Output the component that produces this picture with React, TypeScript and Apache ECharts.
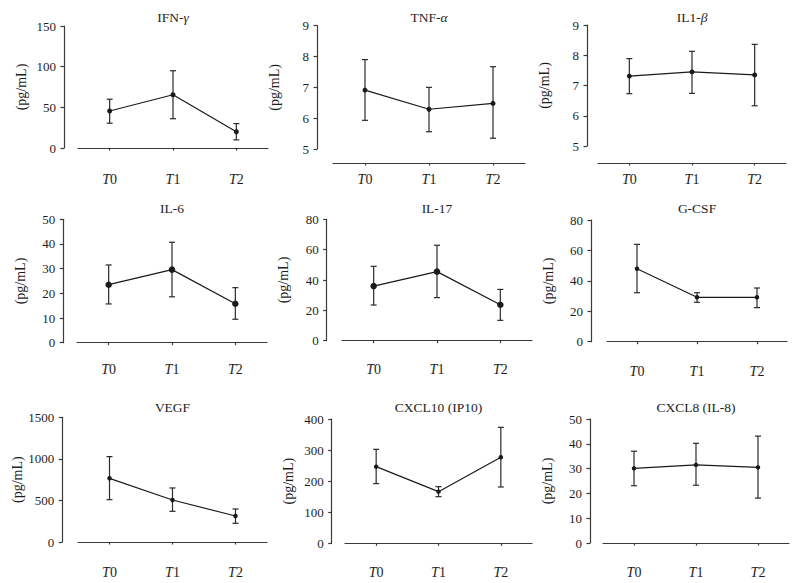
import React, { useEffect, useRef } from "react";
import * as echarts from "echarts";

const categories = ["T0", "T1", "T2"];

const titles = ["IFN-{i|γ}", "TNF-{i|α}", "IL1-{i|β}", "IL-6", "IL-17", "G-CSF", "VEGF", "CXCL10 (IP10)", "CXCL8 (IL-8)"];

const ifnMean = [45.5, 65.5, 20];
const ifnLower = [30.5, 36, 10];
const ifnUpper = [60, 95, 30];

const tnfMean = [6.91, 6.29, 6.48];
const tnfLower = [5.93, 5.56, 5.35];
const tnfUpper = [7.9, 7.0, 7.67];

const il1bMean = [7.31, 7.45, 7.35];
const il1bLower = [6.73, 6.74, 6.33];
const il1bUpper = [7.89, 8.13, 8.36];

const il6Mean = [23.5, 29.6, 15.8];
const il6Lower = [15.7, 18.6, 9.5];
const il6Upper = [31.5, 40.7, 22.3];

const il17Mean = [36.0, 45.5, 23.7];
const il17Lower = [23.5, 28.4, 13.4];
const il17Upper = [49.0, 62.9, 33.8];

const gcsfMean = [48.0, 29.2, 29.2];
const gcsfLower = [32.2, 25.9, 22.4];
const gcsfUpper = [64.0, 32.2, 35.3];

const vegfMean = [766, 505, 313];
const vegfLower = [509, 369, 225];
const vegfUpper = [1027, 650, 397];

const cxcl10Mean = [246.6, 166.2, 276.7];
const cxcl10Lower = [192, 150.1, 181.2];
const cxcl10Upper = [302.4, 182.3, 373.2];

const cxcl8Mean = [30.1, 31.5, 30.5];
const cxcl8Lower = [23.1, 23.3, 18.1];
const cxcl8Upper = [37.0, 40.2, 43.1];

const yMins = [0, 5, 5, 0, 0, 0, 0, 0, 0];
const yMaxs = [150, 9, 9, 50, 80, 80, 1500, 400, 50];
const yIntervals = [50, 1, 1, 10, 20, 20, 500, 100, 10];

const means = [ifnMean, tnfMean, il1bMean, il6Mean, il17Mean, gcsfMean, vegfMean, cxcl10Mean, cxcl8Mean];
const lowers = [ifnLower, tnfLower, il1bLower, il6Lower, il17Lower, gcsfLower, vegfLower, cxcl10Lower, cxcl8Lower];
const uppers = [ifnUpper, tnfUpper, il1bUpper, il6Upper, il17Upper, gcsfUpper, vegfUpper, cxcl10Upper, cxcl8Upper];

// layout (style): grid left, width, top, height, y-axis offset, x-axis offset, symbol size
const layout = [
  { left: 78, width: 190, top: 26, height: 122, yOff: 14, xOff: 15, sym: 5 },
  { left: 333, width: 192, top: 25.7, height: 123.3, yOff: 16, xOff: 14, sym: 5 },
  { left: 598, width: 188, top: 25, height: 121, yOff: 11, xOff: 17, sym: 5 },
  { left: 77, width: 190, top: 219.3, height: 123.4, yOff: 13.7, xOff: 10.6, sym: 6.5 },
  { left: 342, width: 190, top: 219.3, height: 121.4, yOff: 15.3, xOff: 12.6, sym: 6.5 },
  { left: 607, width: 180, top: 220, height: 121.7, yOff: 16, xOff: 13.3, sym: 4.5 },
  { left: 78, width: 189, top: 417.3, height: 124.7, yOff: 15.7, xOff: 14.3, sym: 4.5 },
  { left: 345, width: 187, top: 419, height: 124.3, yOff: 13.3, xOff: 13, sym: 4.5 },
  { left: 603, width: 186, top: 419, height: 124, yOff: 13, xOff: 13.3, sym: 4.5 },
];
const titleY = [17, 17, 17, 208.5, 208.5, 208.5, 407.5, 407.5, 407.5];

const FONT = "'Times New Roman', 'Liberation Serif', Times, serif";
const AXIS_COLOR = "#3a3a3a";
const LINE_COLOR = "#1a1a1a";
const TEXT_COLOR = "#1e1e1e";

export default function App() {
  const ref = useRef<HTMLDivElement>(null);

  useEffect(() => {
    if (!ref.current) return;
    const chart = echarts.init(ref.current, null, { renderer: "svg" });

    const grids: any[] = [];
    const xAxes: any[] = [];
    const yAxes: any[] = [];
    const series: any[] = [];
    const graphics: any[] = [];

    for (let i = 0; i < 9; i++) {
      const L = layout[i];
      grids.push({ left: L.left, top: L.top, width: L.width, height: L.height, containLabel: false });
      xAxes.push({
        type: "category",
        gridIndex: i,
        data: categories,
        boundaryGap: true,
        offset: L.xOff,
        axisLine: { show: true, lineStyle: { color: AXIS_COLOR, width: 1.2 } },
        axisTick: { show: true, alignWithLabel: true, length: 2.5, lineStyle: { color: AXIS_COLOR, width: 1.2 } },
        axisLabel: {
          margin: 9,
          fontFamily: FONT,
          fontSize: 14,
          color: TEXT_COLOR,
          formatter: (v: string) => `{i|${v[0]}}${v.slice(1)}`,
          rich: { i: { fontStyle: "italic", fontFamily: FONT, fontSize: 14, color: TEXT_COLOR } },
        },
        splitLine: { show: false },
      });
      yAxes.push({
        type: "value",
        gridIndex: i,
        min: yMins[i],
        max: yMaxs[i],
        interval: yIntervals[i],
        offset: L.yOff,
        name: "(pg/mL)",
        nameLocation: "middle",
        nameRotate: 90,
        nameGap: 36,
        nameTextStyle: { fontFamily: FONT, fontSize: 14, color: TEXT_COLOR },
        axisLine: { show: true, lineStyle: { color: AXIS_COLOR, width: 1.2 } },
        axisTick: { show: true, inside: false, length: 3.5, lineStyle: { color: AXIS_COLOR, width: 1.2 } },
        axisLabel: {
          margin: 8,
          fontFamily: FONT,
          fontSize: 13,
          color: TEXT_COLOR,
          formatter: (v: number) => String(v),
        },
        splitLine: { show: false },
      });
      series.push({
        type: "line",
        xAxisIndex: i,
        yAxisIndex: i,
        data: means[i],
        symbol: "circle",
        symbolSize: L.sym,
        itemStyle: { color: LINE_COLOR },
        lineStyle: { color: LINE_COLOR, width: 1.2 },
        z: 3,
      });
      const errData = categories.map((_, k) => [k, lowers[i][k], uppers[i][k]]);
      series.push({
        type: "custom",
        xAxisIndex: i,
        yAxisIndex: i,
        data: errData,
        z: 2,
        renderItem: (params: any, api: any) => {
          const idx = api.value(0);
          const lo = api.coord([idx, api.value(1)]);
          const hi = api.coord([idx, api.value(2)]);
          const hw = 3;
          const style = { stroke: "#2a2a2a", lineWidth: 1.2, fill: "none" };
          return {
            type: "group",
            children: [
              { type: "line", shape: { x1: lo[0], y1: lo[1], x2: hi[0], y2: hi[1] }, style },
              { type: "line", shape: { x1: lo[0] - hw, y1: lo[1], x2: lo[0] + hw, y2: lo[1] }, style },
              { type: "line", shape: { x1: hi[0] - hw, y1: hi[1], x2: hi[0] + hw, y2: hi[1] }, style },
            ],
          };
        },
      });
      graphics.push({
        type: "text",
        x: L.left + L.width / 2,
        y: titleY[i],
        style: {
          text: titles[i],
          fontFamily: FONT,
          fontSize: 13.5,
          fill: TEXT_COLOR,
          textAlign: "center",
          textVerticalAlign: "middle",
          rich: { i: { fontStyle: "italic", fontFamily: FONT, fontSize: 13.5, fill: TEXT_COLOR, color: TEXT_COLOR } },
        },
      });
    }

    chart.setOption({
      animation: false,
      backgroundColor: "#ffffff",
      grid: grids,
      xAxis: xAxes,
      yAxis: yAxes,
      series,
      graphic: graphics,
    });

    return () => chart.dispose();
  }, []);

  return (
    <div
      ref={ref}
      style={{ position: "absolute", left: 0, top: 0, width: 798, height: 583, background: "#fff" }}
    />
  );
}
